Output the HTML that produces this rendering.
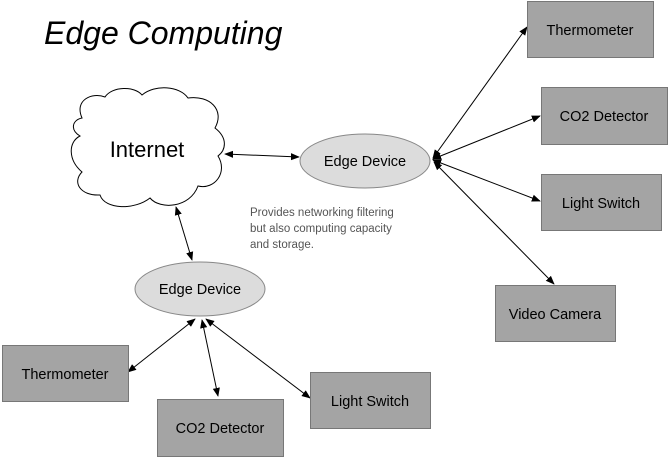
<!DOCTYPE html>
<html><head><meta charset="utf-8"><style>
html,body{margin:0;padding:0;background:#fff;}
svg{display:block;}
text{font-family:"Liberation Sans",sans-serif;}
</style></head><body>
<svg width="668" height="457" viewBox="0 0 668 457" xmlns="http://www.w3.org/2000/svg">
<defs>
<marker id="a" viewBox="0 0 10 10" refX="9" refY="5" markerWidth="9" markerHeight="9" orient="auto-start-reverse" markerUnits="userSpaceOnUse">
<path d="M0,1 L10,5 L0,9 Z" fill="#000"/></marker>
</defs>
<text x="44" y="44" font-size="32" font-style="italic">Edge Computing</text>
<path d="M 82 118 C 74 100 92 92 105 97 C 112 86 135 86 142 95 C 155 84 180 86 188 98 C 210 95 225 110 215 128 C 228 138 226 150 218 156 C 228 172 215 190 198 186 C 190 208 160 210 150 198 C 135 210 105 210 100 195 C 80 196 72 182 82 172 C 68 160 68 142 80 136 C 70 130 72 120 82 118 Z" fill="#fff" stroke="#000" stroke-width="1"/>
<text x="147" y="157" font-size="22" text-anchor="middle">Internet</text>
<ellipse cx="365" cy="161" rx="65" ry="27" fill="#dcdcdc" stroke="#888"/>
<text x="365" y="166" font-size="14.5" text-anchor="middle">Edge Device</text>
<ellipse cx="200" cy="289" rx="65" ry="27" fill="#dcdcdc" stroke="#888"/>
<text x="200" y="294" font-size="14.5" text-anchor="middle">Edge Device</text>
<g fill="#555" font-size="11.5">
<text x="250" y="216">Provides networking filtering</text>
<text x="250" y="232">but also computing capacity</text>
<text x="250" y="248">and storage.</text>
</g>
<g stroke="#000" stroke-width="1" marker-start="url(#a)" marker-end="url(#a)">
<line x1="225" y1="154" x2="299" y2="157"/>
<line x1="176" y1="207" x2="192" y2="260"/>
<line x1="433" y1="158" x2="527" y2="27"/>
<line x1="433" y1="159" x2="540" y2="116"/>
<line x1="433" y1="160" x2="540" y2="201"/>
<line x1="434" y1="162" x2="554" y2="284"/>
<line x1="195" y1="319" x2="128" y2="372"/>
<line x1="202" y1="320" x2="218" y2="396"/>
<line x1="206" y1="319" x2="310" y2="398"/>
</g>
<g fill="#a4a4a4" stroke="#777" stroke-width="1">
<rect x="527.5" y="1.5" width="126" height="56"/>
<rect x="541.5" y="87.5" width="126" height="57"/>
<rect x="541.5" y="174.5" width="120" height="56"/>
<rect x="495.5" y="285.5" width="120" height="56"/>
<rect x="2.5" y="345.5" width="126" height="56"/>
<rect x="157.5" y="399.5" width="126" height="57"/>
<rect x="310.5" y="372.5" width="120" height="56"/>
</g>
<g font-size="14.5" text-anchor="middle" fill="#000">
<text x="590" y="35">Thermometer</text>
<text x="604" y="121">CO2 Detector</text>
<text x="601" y="208">Light Switch</text>
<text x="555" y="319">Video Camera</text>
<text x="65" y="379">Thermometer</text>
<text x="220" y="433">CO2 Detector</text>
<text x="370" y="406">Light Switch</text>
</g>
</svg>
</body></html>
